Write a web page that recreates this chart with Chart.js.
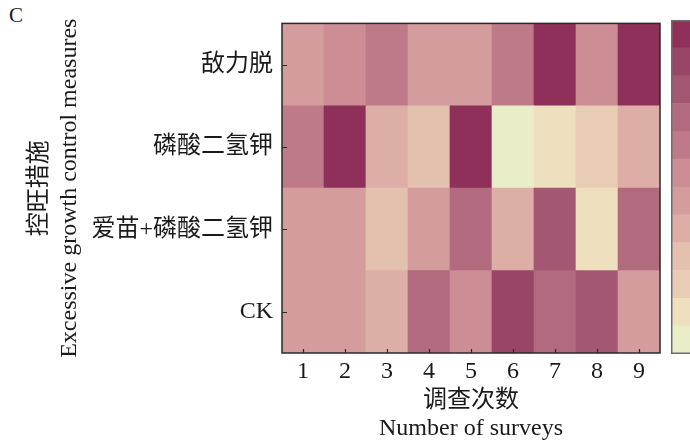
<!DOCTYPE html>
<html>
<head>
<meta charset="utf-8">
<script src="https://cdn.jsdelivr.net/npm/chart.js@4"></script>
<style>
html, body { margin:0; padding:0; background:#fff; overflow:hidden; width:690px; height:445px; }
#wrap { position:relative; width:690px; height:445px; overflow:hidden; }
#main { position:absolute; left:0; top:0; }
#cbar { position:absolute; left:671px; top:20px; }
#lbl { position:absolute; left:9px; top:5px; font-family:"Liberation Serif", serif; font-size:21px; line-height:21px; color:#1a1a1a; }
</style>
</head>
<body>
<div id="wrap">
  <div id="lbl">C</div>
  <canvas id="main" width="690" height="445"></canvas>
  <canvas id="cbar" width="40" height="334"></canvas>
</div>
<script>
// ---- data ----
const surveys = ['1', '2', '3', '4', '5', '6', '7', '8', '9'];
const measures = ['敌力脱', '磷酸二氢钾', '爱苗+磷酸二氢钾', 'CK']; // top to bottom
// colour level per cell (1 = lightest, 12 = darkest)
const lvDiLiTuo = [6, 7, 8, 6, 6, 8, 12, 7, 12];
const lvKH2PO4  = [8, 12, 5, 4, 12, 1, 2, 3, 5];
const lvAiMiao  = [6, 6, 4, 6, 9, 5, 10, 2, 9];
const lvCK      = [6, 6, 5, 9, 7, 11, 9, 10, 6];
const levels = [1, 2, 3, 4, 5, 6, 7, 8, 9, 10, 11, 12];
const levelColors = ['#EAEEC8', '#EEE0BE', '#E8CDB4', '#E4C0AF', '#DDAEA6', '#D49C9D',
                     '#CC8D95', '#BE7A88', '#B16A7E', '#A35773', '#984568', '#8E3059'];

const serif = '"Liberation Serif", "Noto Sans CJK SC", serif';
const txt = '#1a1a1a';

const rowsBottomUp = [lvCK, lvAiMiao, lvKH2PO4, lvDiLiTuo];
const namesBottomUp = measures.slice().reverse();

const frame = {
  id: 'frame',
  afterDatasetsDraw(chart) {
    const {ctx, chartArea: a, scales: {x, y}} = chart;
    ctx.save();
    ctx.strokeStyle = '#2a2a2a';
    ctx.lineWidth = 1.5;
    ctx.strokeRect(a.left, a.top, a.right - a.left, a.bottom - a.top);
    ctx.lineWidth = 1.2;
    ctx.beginPath();
    surveys.forEach((s, i) => {
      const px = Math.round(x.getPixelForValue(i)) + 0.5;
      ctx.moveTo(px, a.bottom);
      ctx.lineTo(px, a.bottom - 4);
    });
    y.ticks.forEach(t => {
      const py = Math.round(y.getPixelForValue(t.value)) + 0.5;
      ctx.moveTo(a.left, py);
      ctx.lineTo(a.left + 5, py);
    });
    ctx.stroke();
    ctx.restore();
  }
};

new Chart(document.getElementById('main'), {
  type: 'bar',
  data: {
    labels: surveys,
    datasets: rowsBottomUp.map((row, r) => ({
      label: namesBottomUp[r],
      data: row.map(() => 1),
      backgroundColor: row.map(v => levelColors[levels.indexOf(v)]),
      borderWidth: 0,
      barPercentage: 1,
      categoryPercentage: 1
    }))
  },
  options: {
    responsive: false,
    animation: false,
    layout: { padding: { top: 20, right: 30, left: 0, bottom: 0 } },
    plugins: { legend: { display: false }, tooltip: { enabled: false } },
    scales: {
      x: {
        stacked: true,
        grid: { display: false, drawTicks: false },
        border: { display: false },
        ticks: { color: txt, font: { family: serif, size: 24, lineHeight: 1.2 }, padding: 4, maxRotation: 0 },
        title: {
          display: true,
          text: ['调查次数', 'Number of surveys'],
          color: txt,
          font: { family: serif, size: 24, lineHeight: 1.1667 },
          padding: { top: 0, bottom: 2 }
        },
        afterFit(s) { s.height = 92; }
      },
      y: {
        stacked: true,
        min: 0, max: 4,
        grid: { display: false, drawTicks: false },
        border: { display: false },
        afterBuildTicks(s) { s.ticks = [0.5, 1.5, 2.5, 3.5].map(v => ({ value: v })); },
        ticks: {
          color: txt,
          font: { family: serif, size: 24 },
          padding: 9,
          callback: (v, i) => namesBottomUp[i]
        },
        title: {
          display: true,
          text: ['控旺措施', 'Excessive growth control measures'],
          color: txt,
          font: { family: serif, size: 24, lineHeight: 1.25 },
          padding: { top: 25, bottom: 0 }
        },
        afterFit(s) { s.width = 282; }
      }
    }
  },
  plugins: [frame]
});

const cbarFrame = {
  id: 'cbarFrame',
  afterDatasetsDraw(chart) {
    const {ctx, chartArea: a} = chart;
    ctx.save();
    ctx.strokeStyle = '#6e6e6e';
    ctx.lineWidth = 1.5;
    ctx.strokeRect(a.left + 0.75, a.top + 0.75, a.right - a.left + 10, a.bottom - a.top - 1.5);
    ctx.restore();
  }
};

new Chart(document.getElementById('cbar'), {
  type: 'bar',
  data: {
    labels: [''],
    datasets: levels.map((lv, i) => ({
      label: String(lv),
      data: [1],
      backgroundColor: levelColors[i],
      borderWidth: 0,
      barPercentage: 1,
      categoryPercentage: 1
    }))
  },
  options: {
    responsive: false,
    animation: false,
    layout: { padding: 0 },
    plugins: { legend: { display: false }, tooltip: { enabled: false } },
    scales: {
      x: { stacked: true, display: false },
      y: { stacked: true, display: false, min: 0, max: 12 }
    }
  },
  plugins: [cbarFrame]
});
</script>
</body>
</html>
